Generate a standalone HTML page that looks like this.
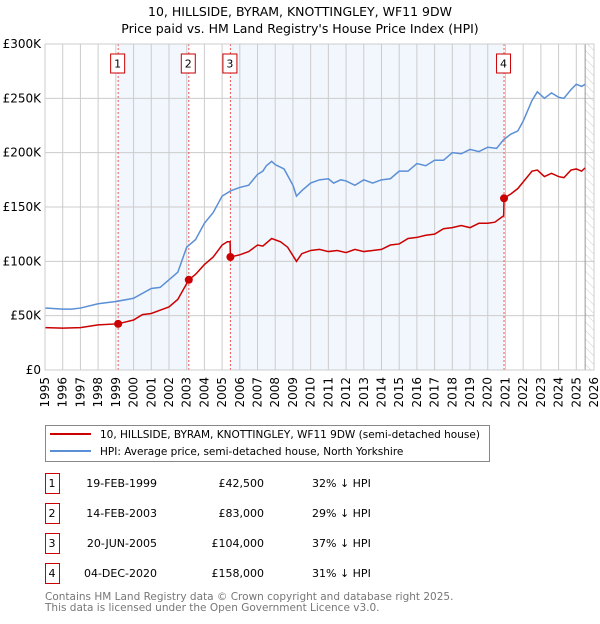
<!DOCTYPE html>
<html><head><meta charset="utf-8"><style>
body{margin:0;background:#fff;font-family:"DejaVu Sans","Liberation Sans",sans-serif;}
svg text{font-family:"DejaVu Sans","Liberation Sans",sans-serif;}
</style></head><body>
<svg id="c" width="600" height="620" xmlns="http://www.w3.org/2000/svg">
<defs><pattern id="hatch" width="6" height="6" patternUnits="userSpaceOnUse" patternTransform="rotate(-45)"><line x1="0" y1="0" x2="0" y2="6" stroke="#ccc" stroke-width="1"/></pattern></defs>
<text x="300" y="16" text-anchor="middle" font-size="12.5" fill="#000">10, HILLSIDE, BYRAM, KNOTTINGLEY, WF11 9DW</text>
<text x="300" y="33" text-anchor="middle" font-size="12.5" fill="#000">Price paid vs. HM Land Registry's House Price Index (HPI)</text>
<g id="plot"></g>
<g>
<rect x="45.5" y="425.5" width="444" height="36" fill="#fff" stroke="#888"/>
<line x1="50" y1="434" x2="91" y2="434" stroke="#cc0000" stroke-width="2"/>
<text x="100" y="438" font-size="10.5">10, HILLSIDE, BYRAM, KNOTTINGLEY, WF11 9DW (semi-detached house)</text>
<line x1="50" y1="451" x2="91" y2="451" stroke="#5b8fd6" stroke-width="2"/>
<text x="100" y="455" font-size="10.5">HPI: Average price, semi-detached house, North Yorkshire</text>
</g>
<g id="table"></g>
<text x="45" y="600" font-size="10.5" fill="#777">Contains HM Land Registry data © Crown copyright and database right 2025.</text>
<text x="45" y="611" font-size="10.5" fill="#777">This data is licensed under the Open Government Licence v3.0.</text>
</svg>
<script>
const hpiYears=[1995,1996,1996.5,1997,1998,1999,2000,2001,2001.5,2002,2002.5,2003,2003.5,2004,2004.5,2005,2005.5,2006,2006.5,2007,2007.3,2007.5,2007.8,2008,2008.5,2009,2009.2,2009.5,2010,2010.5,2011,2011.3,2011.7,2012,2012.5,2013,2013.5,2014,2014.5,2015,2015.5,2016,2016.5,2017,2017.5,2018,2018.5,2019,2019.5,2020,2020.5,2020.9,2021.3,2021.7,2022,2022.5,2022.8,2023.2,2023.6,2024,2024.3,2024.7,2025,2025.3,2025.5];
const hpiValues=[57,56,56,57,61,63,66,75,76,83,90,113,120,135,145,160,165,168,170,180,183,188,192,189,185,170,160,165,172,175,176,172,175,174,170,175,172,175,176,183,183,190,188,193,193,200,199,203,201,205,204,212,217,220,229,248,256,250,255,251,250,258,263,261,263];
const ppYears=[1995,1996,1997,1998,1999.13,2000,2000.5,2001,2001.5,2002,2002.5,2003.12,2003.5,2004,2004.5,2005,2005.3,2005.45,2005.47,2006,2006.5,2007,2007.3,2007.8,2008.3,2008.7,2009.2,2009.5,2010,2010.5,2011,2011.5,2012,2012.5,2013,2013.5,2014,2014.5,2015,2015.5,2016,2016.5,2017,2017.5,2018,2018.5,2019,2019.5,2020,2020.4,2020.9,2020.92,2021.3,2021.7,2022,2022.5,2022.8,2023.2,2023.6,2024,2024.3,2024.7,2025,2025.3,2025.5];
const ppValues=[39,38.5,39,41.5,42.5,46,51,52,55,58,65,83,88,97,104,115,118,118,104,106,109,115,114,121,118,113,100,107,110,111,109,110,108,111,109,110,111,115,116,121,122,124,125,130,131,133,131,135,135,136,142,158,162,167,173,183,184,178,181,178,177,184,185,183,186];
const saleLabels=["1","2","3","4"];
const saleYears=[1999.13,2003.12,2005.47,2020.92];
const salePrices=[42.5,83,104,158];
const saleDates=["19-FEB-1999","14-FEB-2003","20-JUN-2005","04-DEC-2020"];
const salePriceText=["£42,500","£83,000","£104,000","£158,000"];
const saleHpiText=["32% ↓ HPI","29% ↓ HPI","37% ↓ HPI","31% ↓ HPI"];
const yTicks=[0,50,100,150,200,250,300];
const yTickLabels=["£0","£50K","£100K","£150K","£200K","£250K","£300K"];
const xYears=[1995,1996,1997,1998,1999,2000,2001,2002,2003,2004,2005,2006,2007,2008,2009,2010,2011,2012,2013,2014,2015,2016,2017,2018,2019,2020,2021,2022,2023,2024,2025,2026];
const dataEnd=2025.5;

const L=45,R=594,T=44,B=370;
const x=v=>L+(v-1995)/(2026-1995)*(R-L);
const y=v=>B-v/300*(B-T);
const NS="http://www.w3.org/2000/svg";
const plot=document.getElementById('plot');
function mk(tag,attrs,parent){const e=document.createElementNS(NS,tag);for(const k in attrs)e.setAttribute(k,attrs[k]);(parent||plot).appendChild(e);return e;}

let r;
r=mk('rect',{x:x(saleYears[0]),y:T,width:x(saleYears[1])-x(saleYears[0]),height:B-T,fill:'#eef3fc',opacity:0.75});


r=mk('rect',{x:x(saleYears[2]),y:T,width:x(saleYears[3])-x(saleYears[2]),height:B-T,fill:'#eef3fc',opacity:0.75});


r=mk('rect',{x:x(dataEnd),y:T,width:R-x(dataEnd),height:B-T,fill:'url(#hatch)'});



xYears.forEach(v=>{const l=mk('line',{x1:x(v),x2:x(v),y1:T,y2:B,stroke:'#cccccc','stroke-width':1});


const t=mk('text',{x:0,y:0,'font-size':12,'text-anchor':'end',transform:`translate(${x(v)+4},${B+7}) rotate(-90)`});t.textContent=v;

});
yTicks.forEach((v,i)=>{const l=mk('line',{x1:L,x2:R,y1:y(v),y2:y(v),stroke:'#cccccc','stroke-width':1});


const t=mk('text',{x:L-4,y:y(v)+4,'font-size':12,'text-anchor':'end'});t.textContent=yTickLabels[i];

});
r=mk('line',{x1:x(dataEnd),x2:x(dataEnd),y1:T,y2:B,stroke:'#999','stroke-width':1});



saleYears.forEach((v,i)=>{const l=mk('line',{x1:x(v),x2:x(v),y1:T,y2:B,stroke:'#e55','stroke-width':1,'stroke-dasharray':'2,2'});


const b=mk('rect',{x:x(v)-7.5,y:54,width:14,height:19,fill:'#fff',stroke:'#cc0000'});


const t=mk('text',{x:x(v)-0.5,y:67.5,'font-size':11,'text-anchor':'middle'});t.textContent=saleLabels[i];

});

const hp=mk('polyline',{points:hpiYears.map((v,i)=>x(v)+','+y(hpiValues[i])).join(' '),fill:'none',stroke:'#5b8fd6','stroke-width':1.5});


const pp=mk('polyline',{points:ppYears.map((v,i)=>x(v)+','+y(ppValues[i])).join(' '),fill:'none',stroke:'#cc0000','stroke-width':1.5});


saleYears.forEach((v,i)=>{const c=mk('circle',{cx:x(v),cy:y(salePrices[i]),r:4,fill:'#cc0000'});

});
r=mk('rect',{x:L,y:T,width:R-L,height:B-T,fill:'none',stroke:'#cccccc'});



const tb=document.getElementById('table');
const rowY=[483,513,543,573];
saleLabels.forEach((s,i)=>{const yy=rowY[i];
const b=mk('rect',{x:45.5,y:yy-9.5,width:14,height:20,fill:'#fff',stroke:'#cc0000'},tb);


const cells=[[52,s,'middle'],[157,saleDates[i],'end'],[264,salePriceText[i],'end'],[312,saleHpiText[i],'start']];
cells.forEach(([cx,txt,an])=>{const t=mk('text',{x:cx,y:yy+4,'font-size':11,'text-anchor':an},tb);t.textContent=txt;

});});
</script>
</body></html>
